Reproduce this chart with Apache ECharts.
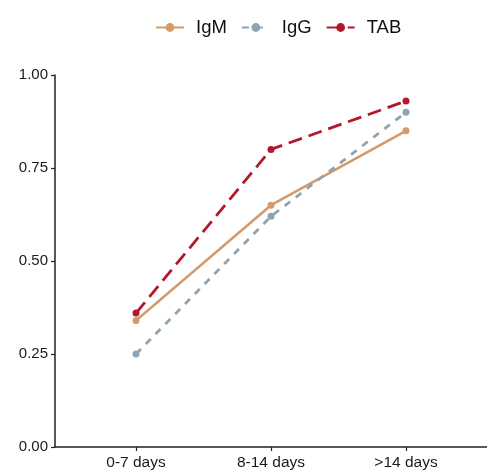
<!DOCTYPE html>
<html>
<head>
<meta charset="utf-8">
<script src="https://cdn.jsdelivr.net/npm/echarts@6/dist/echarts.min.js"></script>
<style>
  html, body { margin: 0; padding: 0; background: #fff; }
  #chart { width: 487px; height: 473px; }
</style>
</head>
<body>
<div id="chart"></div>
<script>
var categories = ['0-7 days', '8-14 days', '>14 days'];
var igm = [0.34, 0.65, 0.85];
var igg = [0.25, 0.62, 0.90];
var tab = [0.36, 0.80, 0.93];
var yTicks = [0, 0.25, 0.5, 0.75, 1];

// categories sit at x = 1, 2, 3 with ggplot-like padding of 0.6 on each side
function toPoints(vals) {
    return vals.map(function (v, i) { return [i + 1, v]; });
}

var myChart = echarts.init(document.getElementById('chart'));
var font = 'Liberation Sans, Arial, sans-serif';

var option = {
    animation: false,
    legend: {
        top: 13,
        left: 150,
        itemWidth: 28,
        itemHeight: 11,
        itemGap: 14,
        textStyle: { fontFamily: font, fontSize: 18.5, color: '#111', padding: [0, 0, 0, 7] },
        data: ['IgM', 'IgG', 'TAB']
    },
    grid: { left: 55, right: 0, top: 75, bottom: 26 },
    xAxis: {
        type: 'value',
        min: 0.4,
        max: 3.6,
        splitLine: { show: false },
        axisLine: { show: true, lineStyle: { color: '#222', width: 1.5 } },
        axisTick: { show: true, length: 4, customValues: [1, 2, 3], lineStyle: { color: '#222', width: 1.2 } },
        axisLabel: {
            customValues: [1, 2, 3],
            formatter: function (v) { return categories[Math.round(v) - 1]; },
            fontFamily: font, fontSize: 15.5, color: '#1a1a1a', margin: 8
        }
    },
    yAxis: {
        type: 'value',
        min: 0,
        max: 1,
        splitLine: { show: false },
        axisLine: { show: true, lineStyle: { color: '#222', width: 1.5 } },
        axisTick: { show: true, length: 4, customValues: yTicks, lineStyle: { color: '#222', width: 1.2 } },
        axisLabel: {
            customValues: yTicks,
            formatter: function (v) { return v.toFixed(2); },
            fontFamily: font, fontSize: 15, color: '#1a1a1a', margin: 7
        }
    },
    series: [{
        name: 'IgM',
        type: 'line',
        data: toPoints(igm),
        symbol: 'circle',
        symbolSize: 7,
        itemStyle: { color: '#d49a6a' },
        lineStyle: { color: '#d49a6a', width: 2.5 }
    }, {
        name: 'IgG',
        type: 'line',
        data: toPoints(igg),
        symbol: 'circle',
        symbolSize: 7,
        itemStyle: { color: '#8ea4b1' },
        lineStyle: { color: '#8ea4b1', width: 2.8, type: [7, 7] }
    }, {
        name: 'TAB',
        type: 'line',
        data: toPoints(tab),
        symbol: 'circle',
        symbolSize: 7,
        itemStyle: { color: '#b2182b' },
        lineStyle: { color: '#b2182b', width: 2.8, type: [14, 7] }
    }]
};

myChart.setOption(option);
</script>
</body>
</html>
